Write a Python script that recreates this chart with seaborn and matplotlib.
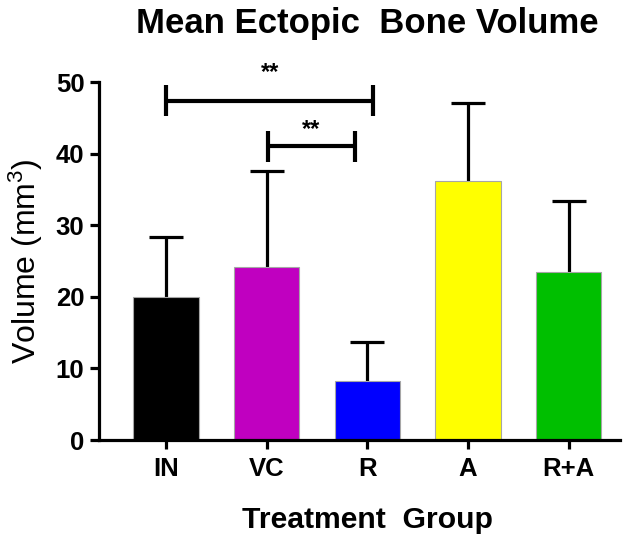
import matplotlib
matplotlib.use("Agg")
import matplotlib.pyplot as plt
import seaborn as sns
import pandas as pd

# Treatment groups, mean ectopic bone volume and upper SD
groups = ["IN", "VC", "R", "A", "R+A"]
means = [20.0, 24.2, 8.3, 36.2, 23.4]
sd = [8.4, 13.4, 5.4, 10.8, 10.0]
colors = ["#000000", "#C000C0", "#0000FF", "#FFFF00", "#00BF00"]

# Significance comparisons between groups
sig_labels = ["**", "**"]
# bracket layout: (left x, right x, line height, label height)
bracket_layout = [(0.0, 2.06, 47.4, 51.3), (1.01, 1.88, 41.0, 43.4)]

sns.set_theme(style="ticks")
plt.rcParams["font.family"] = ["Liberation Sans", "DejaVu Sans"]
plt.rcParams["mathtext.fontset"] = "custom"
plt.rcParams["mathtext.rm"] = "Liberation Sans"
plt.rcParams["mathtext.it"] = "Liberation Sans:italic"
plt.rcParams["mathtext.bf"] = "Liberation Sans:bold"
plt.rcParams["text.color"] = "black"
plt.rcParams["axes.labelcolor"] = "black"
plt.rcParams["xtick.color"] = "black"
plt.rcParams["ytick.color"] = "black"

df = pd.DataFrame({"group": groups, "mean": means, "sd": sd})

fig = plt.figure(figsize=(6.32, 5.37), dpi=100)
ax = fig.add_axes([99 / 632, 1 - 440 / 537, 521 / 632, 358 / 537])

sns.barplot(data=df, x="group", y="mean", hue="group", palette=colors,
            legend=False, errorbar=None, width=0.65, saturation=1, ax=ax,
            edgecolor="0.65", linewidth=0.8, zorder=2)

# upper-only SD whiskers
xpos = list(range(len(groups)))
eb = ax.errorbar(xpos, means, yerr=[[0] * len(sd), sd], fmt="none",
                 ecolor="black", elinewidth=2.3, capsize=12, capthick=2.3,
                 zorder=1)
for cap in eb[1]:
    if list(cap.get_ydata()) == list(means):
        cap.set_visible(False)

for lab, (x0, x1, yb, yt) in zip(sig_labels, bracket_layout):
    ax.plot([x0, x1], [yb, yb], color="black", lw=3, solid_capstyle="butt",
            clip_on=False)
    for xe in (x0, x1):
        ax.plot([xe, xe], [yb - 2.2, yb + 2.2], color="black", lw=3,
                solid_capstyle="butt", clip_on=False)
    ax.text((x0 + x1) / 2, yt, lab, ha="center", va="center",
            fontsize=17, fontweight="bold", clip_on=False)

ax.set_ylim(0, 50)
ax.set_xlim(-0.665, 4.51)
ax.set_yticks([0, 10, 20, 30, 40, 50])
sns.despine(ax=ax)
for sp in ("left", "bottom"):
    ax.spines[sp].set_linewidth(2.3)
    ax.spines[sp].set_color("black")
ax.tick_params(axis="both", length=6.5, width=2.3, color="black", direction="out")
ax.tick_params(axis="y", labelsize=18.5, pad=4)
ax.tick_params(axis="x", labelsize=18.5, pad=6)
for lbl in ax.get_xticklabels() + ax.get_yticklabels():
    lbl.set_fontweight("bold")

ax.set_xlabel("")
ax.set_ylabel("Volume (mm$^3$)", fontsize=23)
ax.yaxis.set_label_coords(-0.104, 0.5)

fig.text(367 / 632, 1 - 520 / 537, "Treatment  Group", ha="center", va="center",
         fontsize=21.7, fontweight="bold")
fig.text(367 / 632, 1 - 24 / 537, "Mean Ectopic  Bone Volume", ha="center",
         va="center", fontsize=25, fontweight="bold")

fig.savefig("out.png", dpi=100)
